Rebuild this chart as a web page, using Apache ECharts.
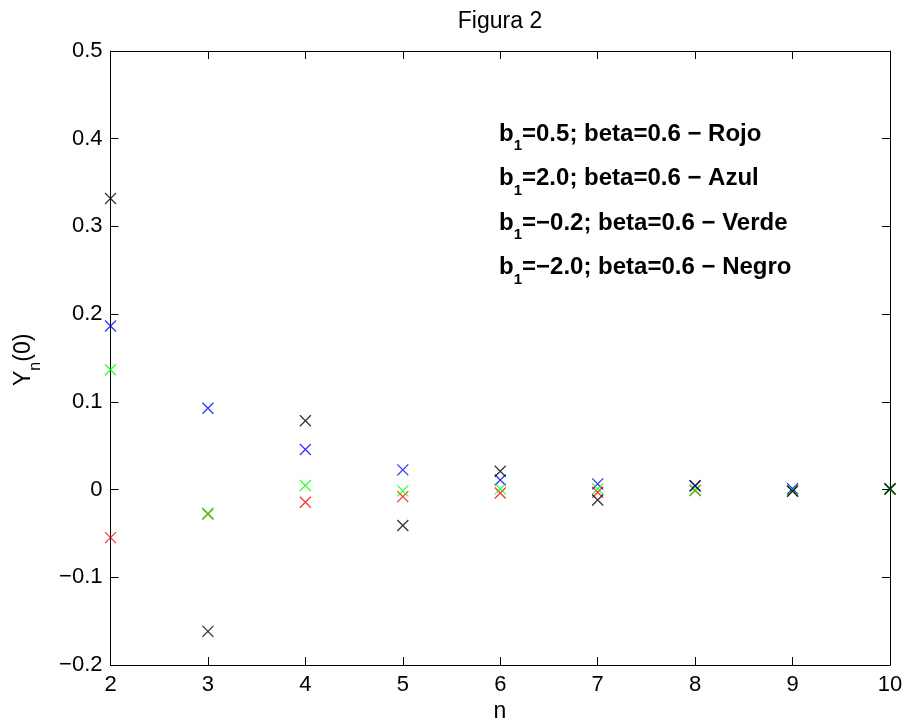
<!DOCTYPE html>
<html><head><meta charset="utf-8">
<script src="https://cdn.jsdelivr.net/npm/echarts@6/dist/echarts.min.js"></script>
<style>html,body{margin:0;padding:0;background:#fff}#c{width:906px;height:725px}</style>
</head><body><div id="c"></div>
<script>
const nValues = [2, 3, 4, 5, 6, 7, 8, 9, 10];
const rojo  = [-0.0548, -0.028, -0.0145, -0.008, -0.004, -0.003, -0.001, -0.0015, 0.0005];
const azul  = [0.1864, 0.0928, 0.0457, 0.0225, 0.011, 0.0065, 0.004, 0.001, 0.0005];
const verde = [0.1366, -0.027, 0.0046, -0.0015, 0.0008, 0.0008, -0.0005, -0.001, 0.0];
const negro = [0.3318, -0.1617, 0.0784, -0.041, 0.0209, -0.0118, 0.0045, -0.002, 0.001];
const xTicks = [2, 3, 4, 5, 6, 7, 8, 9, 10];
const yTicks = [-0.2, -0.1, 0, 0.1, 0.2, 0.3, 0.4, 0.5];
const legendLines = [
  '=0.5; beta=0.6 \u2212 Rojo',
  '=2.0; beta=0.6 \u2212 Azul',
  '=\u22120.2; beta=0.6 \u2212 Verde',
  '=\u22122.0; beta=0.6 \u2212 Negro'
];

const FONT = '"Liberation Sans", Arial, Helvetica, sans-serif';
const xMark = 'path://M0,0L10,10M10,0L0,10';
function mk(name, vals, color) {
  return {
    name: name, type: 'scatter', symbol: xMark, symbolSize: 11,
    itemStyle: { color: 'none', borderColor: color, borderWidth: 1.3 },
    data: nValues.map((n, i) => [n, vals[i]]),
    xAxisIndex: 0, yAxisIndex: 0, silent: true
  };
}
const fmtNum = v => {
  const r = Math.round(v * 10) / 10;
  if (Math.abs(r) < 1e-9) return '0';
  return r < 0 ? '\u2212' + String(Math.abs(r)) : String(r);
};

const chart = echarts.init(document.getElementById('c'), null, { renderer: 'canvas' });
const axisCommon = {
  axisLine: { show: true, onZero: false, lineStyle: { color: '#000', width: 1 } },
  axisTick: { show: true, inside: true, length: 8, lineStyle: { color: '#000' } },
  splitLine: { show: false }
};
const rich = {
  b: { fontFamily: FONT, fontSize: 24, fontWeight: 'bold', color: '#000', lineHeight: 39, verticalAlign: 'middle' },
  s: { fontFamily: FONT, fontSize: 15, fontWeight: 'bold', color: '#000', lineHeight: 39, verticalAlign: 'bottom' }
};
const legendGraphics = legendLines.map((l, i) => ({
  type: 'text', left: 499, top: 122 + i * 44.5,
  style: { text: '{b|b}{s|1}{b|' + l + '}', rich: rich }
}));

chart.setOption({
  animation: false,
  backgroundColor: '#fff',
  grid: { left: 110.5, right: 16, top: 51, bottom: 60, show: false },
  xAxis: [
    Object.assign({ type: 'value', min: 2, max: 10, interval: 1, position: 'bottom',
      axisLabel: { show: true, fontFamily: FONT, fontSize: 22, color: '#000', margin: 9,
        formatter: v => xTicks.includes(v) ? String(v) : '' } }, axisCommon),
    Object.assign({ type: 'value', min: 2, max: 10, interval: 1, position: 'top',
      axisLabel: { show: false } }, axisCommon)
  ],
  yAxis: [
    Object.assign({ type: 'value', min: -0.2, max: 0.5, interval: 0.1, position: 'left',
      axisLabel: { show: true, fontFamily: FONT, fontSize: 22, color: '#000', margin: 8,
        formatter: v => fmtNum(v) } }, axisCommon),
    Object.assign({ type: 'value', min: -0.2, max: 0.5, interval: 0.1, position: 'right',
      axisLabel: { show: false } }, axisCommon)
  ],
  series: [
    mk('Rojo', rojo, '#ff0000'),
    mk('Azul', azul, '#0000ff'),
    mk('Verde', verde, '#00ff00'),
    mk('Negro', negro, '#000000')
  ],
  graphic: [
    { type: 'text', x: 500, y: 22, style: { text: 'Figura 2', fontFamily: FONT, fontSize: 23, fill: '#000', align: 'center', verticalAlign: 'middle' } },
    { type: 'text', x: 500, y: 712, style: { text: 'n', fontFamily: FONT, fontSize: 23, fill: '#000', align: 'center', verticalAlign: 'middle' } },
    { type: 'text', x: 4, y: 386, rotation: Math.PI / 2,
      style: { text: '{m|Y}{t|n}{m|(0)}', rich: {
        m: { fontFamily: FONT, fontSize: 23, color: '#000', lineHeight: 40, verticalAlign: 'middle' },
        t: { fontFamily: FONT, fontSize: 16, color: '#000', lineHeight: 40, verticalAlign: 'bottom' } } } }
  ].concat(legendGraphics)
});
</script></body></html>
